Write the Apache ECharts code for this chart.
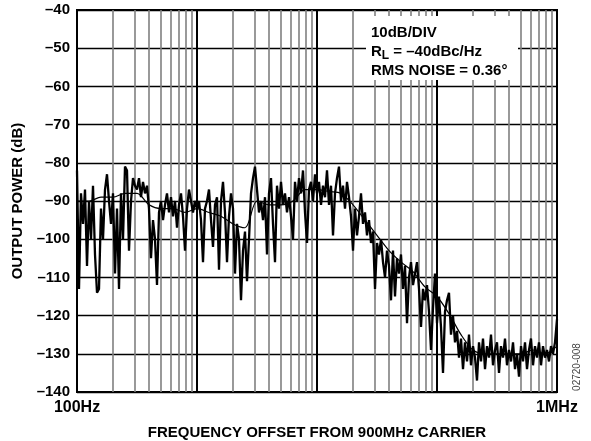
<!DOCTYPE html>
<html>
<head>
<meta charset="utf-8">
<script src="https://cdn.jsdelivr.net/npm/echarts@6/dist/echarts.min.js"></script>
<style>
  html, body { margin: 0; padding: 0; background: #fff; }
  #chart { width: 591px; height: 441px; }
</style>
</head>
<body>
<div id="chart"></div>
<script>
// measured trace, sweep points evenly spaced on a log axis from 100Hz to 1MHz
const noisyDb = [
  -82, -113, -88, -96, -87, -107, -90, -100, -86, -104,
  -114, -113, -92, -100, -87, -83, -90, -96, -88, -109,
  -92, -113, -88, -100, -81, -82, -103, -90, -84, -86,
  -87, -84, -89, -85, -88, -86, -92, -105, -95, -100,
  -112, -93, -90, -95, -91, -88, -93, -89, -94, -90,
  -97, -91, -88, -94, -103, -92, -87, -90, -93, -90,
  -92, -90, -95, -106, -92, -90, -87, -95, -102, -91,
  -89, -108, -90, -85, -93, -106, -94, -88, -92, -109,
  -96, -100, -116, -103, -98, -111, -100, -88, -84, -81,
  -87, -93, -90, -95, -89, -104, -88, -84, -96, -106,
  -86, -92, -85, -91, -88, -93, -89, -94, -100, -85,
  -90, -84, -88, -82, -93, -101, -87, -85, -90, -83,
  -88, -85, -91, -86, -89, -82, -91, -86, -99, -88,
  -84, -81, -90, -86, -92, -85, -89, -94, -103, -92,
  -99, -94, -88, -96, -93, -99, -95, -101, -98, -113,
  -101, -104, -100, -106, -110, -103, -107, -116, -103, -115,
  -105, -109, -104, -113, -107, -122, -110, -106, -112, -109,
  -106, -113, -123, -113, -116, -112, -119, -129, -118, -109,
  -122, -115, -123, -135, -119, -116, -114, -125, -120, -127,
  -124, -131, -126, -134, -127, -132, -125, -133, -128, -131,
  -137, -127, -132, -126, -134, -128, -131, -125, -133, -129,
  -127, -135, -128, -131, -126, -133, -129, -132, -127, -134,
  -130, -136, -128, -132, -127, -134, -129, -126, -133, -128,
  -131, -127, -133, -128, -131, -129, -132, -128, -130, -127,
  -121
]
// averaged trace, 10 points per decade
const smoothDb = [
  -90, -90, -89, -89, -88, -88, -91, -92, -92, -93,
  -92, -93, -94, -96, -97, -90, -91, -91, -90, -87,
  -87, -87.5, -88, -91, -95, -99, -103, -106, -108.5, -112.5,
  -115, -119.5, -125, -129, -130, -130, -130, -130, -129, -130,
  -128
]
const minorMult = [2, 3, 4, 5, 6, 7, 8, 9]
const decades = [100, 1000, 10000, 100000]

function sweep(values) {
  const n = values.length - 1
  return values.map((v, i) => [Math.pow(10, 2 + (4 * i) / n), v])
}

const minorLines = []
decades.forEach((d) => {
  minorMult.forEach((m) => {
    minorLines.push({ xAxis: d * m })
  })
})

const chart = echarts.init(document.getElementById('chart'))
const font = 'Liberation Sans, Arial, sans-serif'

const option = {
  animation: false,
  backgroundColor: '#fff',
  grid: {
    left: 77,
    right: 34,
    top: 10,
    bottom: 49,
    outerBoundsMode: 'none',
    containLabel: false,
    show: true,
    borderColor: '#000',
    borderWidth: 2
  },
  xAxis: {
    type: 'log',
    logBase: 10,
    min: 100,
    max: 1000000,
    interval: 1,
    name: 'FREQUENCY OFFSET FROM 900MHz CARRIER',
    nameLocation: 'middle',
    nameGap: 33,
    nameTextStyle: { fontFamily: font, fontWeight: 'bold', fontSize: 15, color: '#000' },
    axisLine: { show: false },
    axisTick: { show: false },
    axisLabel: {
      margin: 8,
      fontFamily: font,
      fontWeight: 'bold',
      fontSize: 16,
      color: '#000',
      formatter: (v) => {
        if (v === 100) return '100Hz'
        if (v === 1000000) return '1MHz'
        return ''
      }
    },
    splitLine: { show: true, lineStyle: { color: '#000', width: 2 } }
  },
  yAxis: {
    type: 'value',
    min: -140,
    max: -40,
    interval: 10,
    name: 'OUTPUT POWER (dB)',
    nameLocation: 'middle',
    nameGap: 51,
    nameTextStyle: { fontFamily: font, fontWeight: 'bold', fontSize: 15, color: '#000' },
    axisLine: { show: false },
    axisTick: { show: false },
    axisLabel: {
      margin: 7,
      fontFamily: font,
      fontWeight: 'bold',
      fontSize: 15,
      color: '#000',
      formatter: (v) => String(v).replace('-', '–')
    },
    splitLine: { show: true, lineStyle: { color: '#000', width: 1.3 } }
  },
  series: [
    {
      type: 'line',
      data: [],
      silent: true,
      markLine: {
        silent: true,
        symbol: 'none',
        label: { show: false },
        lineStyle: { color: '#808080', width: 1.6, type: 'solid' },
        data: minorLines
      }
    },
    {
      type: 'line',
      data: sweep(noisyDb),
      showSymbol: false,
      lineStyle: { color: '#000', width: 2.3 },
      z: 5
    },
    {
      type: 'line',
      data: sweep(smoothDb),
      showSymbol: false,
      smooth: 0.3,
      lineStyle: { color: '#000', width: 1.2 },
      z: 6
    }
  ],
  graphic: [
    {
      type: 'rect',
      shape: { x: 366, y: 16, width: 152, height: 64 },
      style: { fill: '#fff' },
      z: 100
    },
    {
      type: 'text',
      x: 371,
      y: 33,
      z: 101,
      style: {
        text: '10dB/DIV',
        font: 'bold 15px ' + font,
        fill: '#000',
        verticalAlign: 'middle'
      }
    },
    {
      type: 'text',
      x: 371,
      y: 52,
      z: 101,
      style: {
        text: '{a|R}{s|L}{a| = –40dBc/Hz}',
        verticalAlign: 'middle',
        rich: {
          a: { font: 'bold 15px ' + font, fill: '#000' },
          s: { font: 'bold 12px ' + font, fill: '#000', padding: [7, 0, 0, 0] }
        }
      }
    },
    {
      type: 'text',
      x: 371,
      y: 71,
      z: 101,
      style: {
        text: 'RMS NOISE = 0.36°',
        font: 'bold 15px ' + font,
        fill: '#000',
        verticalAlign: 'middle'
      }
    },
    {
      type: 'text',
      x: 577,
      y: 367,
      rotation: Math.PI / 2,
      style: {
        text: '02720-008',
        font: '10px ' + font,
        fill: '#444',
        align: 'center',
        verticalAlign: 'middle'
      }
    }
  ]
}

chart.setOption(option)
</script>
</body>
</html>
